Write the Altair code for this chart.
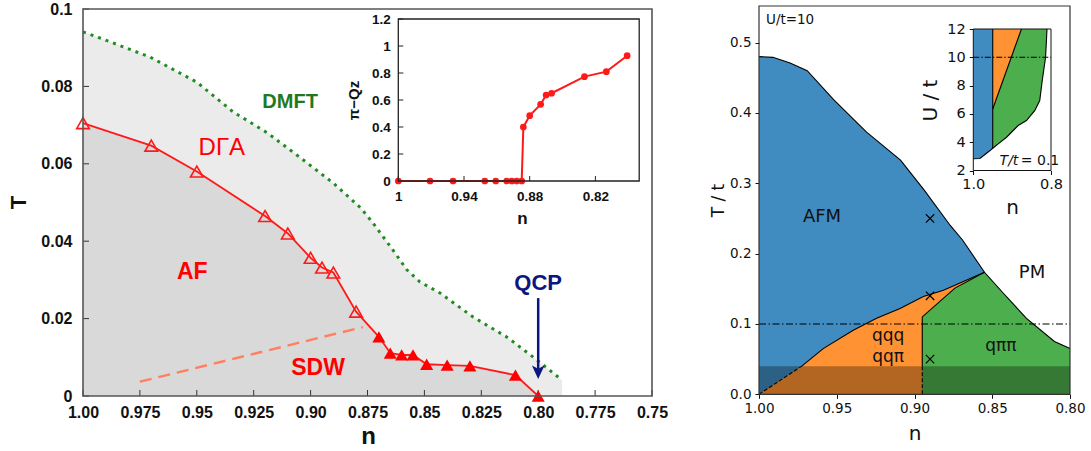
import altair as alt
import pandas as pd

W, H = 1091, 451

# ===================== LEFT PANEL: DGA / DMFT phase diagram =====================
L_N_DOMAIN = [1.0, 0.75]
L_T_DOMAIN = [0.0, 0.1]
L_XTICKS = [1.0, 0.975, 0.95, 0.925, 0.9, 0.875, 0.85, 0.825, 0.8, 0.775, 0.75]
L_XLABELS = ["1.00", "0.975", "0.95", "0.925", "0.90", "0.875", "0.85", "0.825", "0.80", "0.775", "0.75"]
L_YTICKS = [0.0, 0.02, 0.04, 0.06, 0.08, 0.1]
L_YLABELS = ["0", "0.02", "0.04", "0.06", "0.08", "0.1"]

DMFT_N = [1.000, 0.9925, 0.9706, 0.950, 0.934, 0.919, 0.905, 0.890, 0.878, 0.8726,
          0.8638, 0.8577, 0.852, 0.8431, 0.8286, 0.8137, 0.8023, 0.7895]
DMFT_T = [0.0941, 0.0925, 0.0876, 0.0811, 0.0734, 0.0680, 0.0618, 0.0550, 0.0486, 0.0447,
          0.0377, 0.0326, 0.0295, 0.0266, 0.0204, 0.0152, 0.0101, 0.0041]

DGA_N = [1.000, 0.970, 0.950, 0.920, 0.910, 0.900, 0.895, 0.890, 0.880,
         0.870, 0.865, 0.860, 0.855, 0.849, 0.840, 0.830, 0.810, 0.800]
DGA_T = [0.0705, 0.0647, 0.0580, 0.0465, 0.0420, 0.0357, 0.0332, 0.0319, 0.0218,
         0.0153, 0.0111, 0.0106, 0.0106, 0.0082, 0.0080, 0.0078, 0.0054, 0.0000]
DGA_FILLED = [False] * 9 + [True] * 9

SDW_N = [0.975, 0.877]
SDW_T = [0.0037, 0.0178]

QCP_N = [0.80]
QCP_SHAFT_T = [0.0253, 0.0070]
QCP_HEAD_T = [0.0067]

L_TEXT = ["DMFT", "DΓA", "AF", "SDW", "QCP"]
L_TEXT_N = [0.909, 0.939, 0.952, 0.8967, 0.800]
L_TEXT_T = [0.0760, 0.0641, 0.0320, 0.0072, 0.0292]

# ---- left inset ----
LI_N_DOMAIN = [1.0, 0.78]
LI_Q_DOMAIN = [0.0, 1.2]
LI_XTICKS = [1.0, 0.94, 0.88, 0.82]
LI_XLABELS = ["1", "0.94", "0.88", "0.82"]
LI_YTICKS = [0.0, 0.2, 0.4, 0.6, 0.8, 1.0, 1.2]
LI_YLABELS = ["0", "0.2", "0.4", "0.6", "0.8", "1", "1.2"]
LI_N = [1.000, 0.971, 0.950, 0.921, 0.911, 0.901, 0.8964, 0.8919, 0.8873,
        0.8858, 0.880, 0.870, 0.865, 0.860, 0.830, 0.810, 0.791]
LI_Q = [0, 0, 0, 0, 0, 0, 0, 0, 0,
        0.40, 0.484, 0.568, 0.637, 0.650, 0.773, 0.810, 0.928]

# ===================== RIGHT PANEL: U/t = 10 phase diagram =====================
R_N_DOMAIN = [1.0, 0.8]
R_T_DOMAIN = [0.0, 0.552]
R_XTICKS = [1.0, 0.95, 0.9, 0.85, 0.8]
R_YTICKS = [0.0, 0.1, 0.2, 0.3, 0.4, 0.5]

AFM_N = [1.000, 0.991, 0.980, 0.969, 0.952, 0.931, 0.909, 0.894, 0.877, 0.869,
         0.855, 0.843, 0.828, 0.810, 0.800]
AFM_T = [0.480, 0.479, 0.471, 0.460, 0.419, 0.373, 0.333, 0.291, 0.240, 0.219,
         0.1735, 0.144, 0.108, 0.075, 0.065]

LOW_N = [1.000, 0.9725, 0.9587, 0.9394, 0.9244, 0.9093, 0.8943, 0.8814, 0.855]
LOW_T = [0.000, 0.040, 0.065, 0.091, 0.108, 0.122, 0.139, 0.148, 0.1735]

GRN_N = [0.895, 0.895, 0.874, 0.855]
GRN_T = [0.000, 0.110, 0.151, 0.1735]

PM_N = [0.843, 0.828, 0.810, 0.800]
PM_T = [0.144, 0.108, 0.075, 0.065]

BAND_T = [0.0, 0.04]
CUT_T = [0.1]
CROSS_N = [0.89, 0.89, 0.89]
CROSS_T = [0.25, 0.14, 0.05]

R_TEXT = ["AFM", "PM", "qqq", "qqπ", "qππ"]
R_TEXT_N = [0.9595, 0.8244, 0.917, 0.917, 0.8444]
R_TEXT_T = [0.252, 0.1724, 0.083, 0.053, 0.0685]
R_TAG = "U/t=10"
R_TAG_N = 0.9955
R_TAG_T = 0.532

# ---- right inset ----
RI_N_DOMAIN = [1.0, 0.8]
RI_U_DOMAIN = [2.0, 12.0]
RI_XTICKS = [1.0, 0.8]
RI_YTICKS = [2, 4, 6, 8, 10, 12]
RI_BLUE_N = [1.000, 0.983, 0.970, 0.957, 0.950]
RI_BLUE_U = [2.83, 2.85, 3.13, 3.41, 3.57]
RI_GREEN_N = [0.950, 0.936, 0.9145, 0.8846, 0.8632, 0.842, 0.829, 0.8226, 0.814, 0.8103]
RI_GREEN_U = [3.57, 3.88, 4.35, 5.18, 5.53, 6.23, 6.94, 8.35, 10.0, 12.0]
RI_ORANGE_N = [0.950, 0.876]
RI_ORANGE_U = [6.35, 12.0]
RI_CUT_U = [10.0]
RI_TAG_N = [0.884, 0.8777]
RI_TAG_U = [2.65, 2.65]

BLUE, ORANGE, GREEN = "#408bbf", "#ff9232", "#4cae4c"
LFONT, RFONT = "Liberation Sans", "DejaVu Sans"


# ===================== helpers =====================
def label_expr(values, labels):
    vals = ",".join(repr(float(v)) for v in values)
    labs = ",".join("'" + s + "'" for s in labels)
    return f"[{labs}][indexof([{vals}], datum.value)]"


def make_enc(xdom, xrng, ydom, yrng, xaxis, yaxis):
    sx = alt.Scale(domain=xdom, range=xrng, nice=False, zero=False)
    sy = alt.Scale(domain=ydom, range=yrng, nice=False, zero=False)

    def X(f="x"):
        return alt.X(f, type="quantitative", scale=sx, axis=xaxis)

    def Y(f="y"):
        return alt.Y(f, type="quantitative", scale=sy, axis=yaxis)

    return X, Y


def df_line(xs, ys):
    return pd.DataFrame({"x": list(xs), "y": list(ys), "i": list(range(len(xs)))})


def df_area(xs, ys, base):
    return pd.DataFrame({"x": list(xs), "y": list(ys), "y2": list(base)})


def frame(X, Y, xdom, ydom, color, width):
    d = pd.DataFrame({"x": [xdom[0]], "x2": [xdom[1]], "y": [ydom[0]], "y2": [ydom[1]]})
    return alt.Chart(d).mark_rect(fillOpacity=0, stroke=color, strokeWidth=width).encode(
        x=X(), x2="x2", y=Y(), y2="y2")


def inward_ticks(X, Y, xticks, yticks, xdom, ydom, length, color):
    dx = pd.DataFrame({"x": xticks, "y": [ydom[0]] * len(xticks)})
    dx["y2"] = dx["y"]
    rx = alt.Chart(dx).mark_rule(color=color, strokeWidth=1, y2Offset=-length).encode(
        x=X(), y=Y(), y2="y2")
    dy = pd.DataFrame({"y": yticks, "x": [xdom[0]] * len(yticks)})
    dy["x2"] = dy["x"]
    ry = alt.Chart(dy).mark_rule(color=color, strokeWidth=1, x2Offset=length).encode(
        x=X(), x2="x2", y=Y())
    return [rx, ry]


def text(X, Y, x, y, s, **style):
    d = pd.DataFrame({"x": [x], "y": [y], "t": [s]})
    return alt.Chart(d).mark_text(**style).encode(x=X(), y=Y(), text="t:N")


# ===================== left main panel =====================
L_XAXIS = alt.Axis(orient="bottom", offset=-(H - 396), values=L_XTICKS,
                   labelExpr=label_expr(L_XTICKS, L_XLABELS), ticks=False, domain=False, grid=False,
                   labelFont=LFONT, labelFontSize=16, labelFontWeight="bold", labelColor="#111",
                   labelPadding=8, labelFlush=False, labelOverlap=False,
                   title="n", titleFont=LFONT, titleFontSize=24, titleFontWeight="bold",
                   titleColor="#111", titleX=368, titleY=47, titleAlign="center",
                   titleBaseline="alphabetic")
L_YAXIS = alt.Axis(orient="left", offset=-83, values=L_YTICKS,
                   labelExpr=label_expr(L_YTICKS, L_YLABELS), ticks=False, domain=False, grid=False,
                   labelFont=LFONT, labelFontSize=16, labelFontWeight="bold", labelColor="#111",
                   labelPadding=11, labelFlush=False, labelOverlap=False,
                   title="T", titleFont=LFONT, titleFontSize=22, titleFontWeight="bold",
                   titleColor="#111", titleAngle=270, titleX=-58, titleY=202, titleAlign="center",
                   titleBaseline="alphabetic")
LX, LY = make_enc(L_N_DOMAIN, [83, 652], L_T_DOMAIN, [396, 9], L_XAXIS, L_YAXIS)

zeros = lambda k: [L_T_DOMAIN[0]] * k
dga = pd.DataFrame({"x": DGA_N, "y": DGA_T, "filled": DGA_FILLED})

left_layers = [
    alt.Chart(df_area(DMFT_N, DMFT_T, zeros(len(DMFT_N)))).mark_area(color="#ebebeb").encode(
        x=LX(), y=LY(), y2="y2"),
    alt.Chart(df_area(DGA_N, DGA_T, zeros(len(DGA_N)))).mark_area(color="#d9d9d9").encode(
        x=LX(), y=LY(), y2="y2"),
    *inward_ticks(LX, LY, L_XTICKS, L_YTICKS, L_N_DOMAIN, L_T_DOMAIN, 6, "#333"),
    alt.Chart(df_line(SDW_N, SDW_T)).mark_line(color="#ff7f5f", strokeWidth=2.4,
                                               strokeDash=[12, 7]).encode(x=LX(), y=LY()),
    alt.Chart(df_line(DMFT_N, DMFT_T)).mark_line(color="#238a23", strokeWidth=3,
                                                 strokeDash=[3, 5]).encode(x=LX(), y=LY()),
    alt.Chart(dga).mark_line(color="#ff1a1a", strokeWidth=1.8).encode(x=LX(), y=LY()),
    alt.Chart(dga[~dga["filled"]]).mark_point(shape="triangle-up", filled=False, color="#ff1a1a",
                                              strokeWidth=1.6, size=160, opacity=1).encode(
        x=LX(), y=LY()),
    alt.Chart(dga[dga["filled"]]).mark_point(shape="triangle-up", filled=True, color="#ff0000",
                                             size=170, opacity=1).encode(x=LX(), y=LY()),
    alt.Chart(pd.DataFrame({"x": QCP_N, "y": [QCP_SHAFT_T[0]], "y2": [QCP_SHAFT_T[1]]})).mark_rule(
        color="#0c1580", strokeWidth=2.5).encode(x=LX(), y=LY(), y2="y2"),
    alt.Chart(pd.DataFrame({"x": QCP_N, "y": QCP_HEAD_T})).mark_point(
        shape="M0,1L-0.7,-0.5L0,-0.15L0.7,-0.5Z", filled=True, color="#0c1580", size=324,
        opacity=1).encode(x=LX(), y=LY()),
    text(LX, LY, L_TEXT_N[0], L_TEXT_T[0], L_TEXT[0], font=LFONT, fontSize=20, fontWeight="bold",
         color="#1f7a1f", baseline="middle"),
    text(LX, LY, L_TEXT_N[1], L_TEXT_T[1], L_TEXT[1], font=LFONT, fontSize=24, color="#ff0000",
         baseline="middle"),
    text(LX, LY, L_TEXT_N[2], L_TEXT_T[2], L_TEXT[2], font=LFONT, fontSize=23, fontWeight="bold",
         color="#ff0000", baseline="middle"),
    text(LX, LY, L_TEXT_N[3], L_TEXT_T[3], L_TEXT[3], font=LFONT, fontSize=23, fontWeight="bold",
         color="#ff0000", baseline="middle"),
    text(LX, LY, L_TEXT_N[4], L_TEXT_T[4], L_TEXT[4], font=LFONT, fontSize=22, fontWeight="bold",
         color="#0c1580", baseline="middle"),
    frame(LX, LY, L_N_DOMAIN, L_T_DOMAIN, "#555", 1.6),
]
left_panel = alt.layer(*left_layers)

# ===================== left inset =====================
LI_XAXIS = alt.Axis(orient="bottom", offset=-(H - 181), values=LI_XTICKS,
                    labelExpr=label_expr(LI_XTICKS, LI_XLABELS), ticks=False, domain=False, grid=False,
                    labelFont=LFONT, labelFontSize=13.5, labelFontWeight="bold", labelColor="#111",
                    labelPadding=8, labelFlush=False, labelOverlap=False,
                    title="n", titleFont=LFONT, titleFontSize=17, titleFontWeight="bold",
                    titleColor="#111", titleX=522, titleY=42, titleAlign="center",
                    titleBaseline="alphabetic", zindex=1)
LI_YAXIS = alt.Axis(orient="left", offset=-398.3, values=LI_YTICKS,
                    labelExpr=label_expr(LI_YTICKS, LI_YLABELS), ticks=False, domain=False, grid=False,
                    labelFont=LFONT, labelFontSize=13.5, labelFontWeight="bold", labelColor="#111",
                    labelPadding=8, labelFlush=False, labelOverlap=False,
                    title="π−Qz", titleFont=LFONT, titleFontSize=15, titleFontWeight="bold",
                    titleColor="#111", titleAngle=270, titleX=-40, titleY=100, titleAlign="center",
                    titleBaseline="alphabetic", zindex=1)
IX, IY = make_enc(LI_N_DOMAIN, [398.3, 639.2], LI_Q_DOMAIN, [181, 19], LI_XAXIS, LI_YAXIS)

ins = df_line(LI_N, LI_Q)
left_inset = alt.layer(
    *inward_ticks(IX, IY, LI_XTICKS, LI_YTICKS, LI_N_DOMAIN, LI_Q_DOMAIN, 5, "#222"),
    alt.Chart(ins).mark_line(color="#ff1a1a", strokeWidth=2).encode(x=IX(), y=IY(), order="i:Q"),
    alt.Chart(ins).mark_point(shape="circle", filled=True, color="#ff1a1a", size=45,
                              opacity=1).encode(x=IX(), y=IY()),
    frame(IX, IY, LI_N_DOMAIN, LI_Q_DOMAIN, "#222", 1.3),
)

# ===================== right main panel =====================
R_XAXIS = alt.Axis(orient="bottom", offset=-(H - 394.3), values=R_XTICKS, format=".2f",
                   ticks=True, tickSize=4, tickColor="#111", tickWidth=1, domain=False, grid=False,
                   labelFont=RFONT, labelFontSize=13.5, labelColor="#111", labelPadding=3,
                   labelFlush=False, labelOverlap=False,
                   title="n", titleFont=RFONT, titleFontSize=20, titleFontWeight="normal",
                   titleColor="#111", titleX=914.5, titleY=45.5, titleAlign="center",
                   titleBaseline="alphabetic")
R_YAXIS = alt.Axis(orient="left", offset=-759, values=R_YTICKS, format=".1f",
                   ticks=True, tickSize=4, tickColor="#111", tickWidth=1, domain=False, grid=False,
                   labelFont=RFONT, labelFontSize=13.5, labelColor="#111", labelPadding=4,
                   labelFlush=False, labelOverlap=False,
                   title="T / t", titleFont=RFONT, titleFontSize=17, titleFontWeight="normal",
                   titleColor="#111", titleAngle=270, titleX=-36, titleY=200, titleAlign="center",
                   titleBaseline="alphabetic")
RX, RY = make_enc(R_N_DOMAIN, [759, 1070], R_T_DOMAIN, [394.3, 6], R_XAXIS, R_YAXIS)

r0 = R_T_DOMAIN[0]
green_n = GRN_N[1:] + PM_N
green_t = GRN_T[1:] + PM_T
band = pd.DataFrame({"x": [R_N_DOMAIN[0]], "x2": [R_N_DOMAIN[1]], "y": [BAND_T[0]], "y2": [BAND_T[1]]})
cut = pd.DataFrame({"x": [R_N_DOMAIN[0]], "x2": [R_N_DOMAIN[1]], "y": CUT_T})

right_layers = [
    alt.Chart(df_area(AFM_N, AFM_T, [r0] * len(AFM_N))).mark_area(color=BLUE, opacity=1).encode(
        x=RX(), y=RY(), y2="y2"),
    alt.Chart(df_area(LOW_N, LOW_T, [r0] * len(LOW_N))).mark_area(color=ORANGE, opacity=1).encode(
        x=RX(), y=RY(), y2="y2"),
    alt.Chart(df_area(green_n, green_t, [r0] * len(green_n))).mark_area(color=GREEN, opacity=1).encode(
        x=RX(), y=RY(), y2="y2"),
    alt.Chart(band).mark_rect(color="black", opacity=0.3).encode(x=RX(), x2="x2", y=RY(), y2="y2"),
    alt.Chart(df_line(AFM_N, AFM_T)).mark_line(color="black", strokeWidth=1.1).encode(
        x=RX(), y=RY(), order="i:Q"),
    alt.Chart(df_line(LOW_N[1:], LOW_T[1:])).mark_line(color="black", strokeWidth=1.1).encode(
        x=RX(), y=RY(), order="i:Q"),
    alt.Chart(df_line(LOW_N[:2], LOW_T[:2])).mark_line(color="black", strokeWidth=1.1,
                                                       strokeDash=[4, 2]).encode(
        x=RX(), y=RY(), order="i:Q"),
    alt.Chart(df_line([GRN_N[0]] + GRN_N[1:], [BAND_T[1]] + GRN_T[1:])).mark_line(
        color="black", strokeWidth=1.1).encode(x=RX(), y=RY(), order="i:Q"),
    alt.Chart(df_line(GRN_N[:1] * 2, [GRN_T[0], BAND_T[1]])).mark_line(
        color="black", strokeWidth=1.1, strokeDash=[4, 2]).encode(x=RX(), y=RY(), order="i:Q"),
    alt.Chart(cut).mark_rule(color="black", strokeWidth=1.1, strokeDash=[7, 2.5, 1.5, 2.5]).encode(
        x=RX(), x2="x2", y=RY()),
    alt.Chart(pd.DataFrame({"x": CROSS_N, "y": CROSS_T})).mark_point(
        shape="M-1,-1L1,1M-1,1L1,-1", filled=False, color="black", strokeWidth=1.2, size=70,
        opacity=1).encode(x=RX(), y=RY()),
    text(RX, RY, R_TEXT_N[0], R_TEXT_T[0], R_TEXT[0], font=RFONT, fontSize=18, color="#111",
         baseline="middle"),
    text(RX, RY, R_TEXT_N[1], R_TEXT_T[1], R_TEXT[1], font=RFONT, fontSize=18, color="#111",
         baseline="middle"),
    text(RX, RY, R_TEXT_N[2], R_TEXT_T[2], R_TEXT[2], font=RFONT, fontSize=17, color="#111",
         baseline="middle"),
    text(RX, RY, R_TEXT_N[3], R_TEXT_T[3], R_TEXT[3], font=RFONT, fontSize=17, color="#111",
         baseline="middle"),
    text(RX, RY, R_TEXT_N[4], R_TEXT_T[4], R_TEXT[4], font=RFONT, fontSize=17, color="#111",
         baseline="middle"),
    text(RX, RY, R_TAG_N, R_TAG_T, R_TAG, font=RFONT, fontSize=13.5, color="#111",
         align="left", baseline="middle"),
    frame(RX, RY, R_N_DOMAIN, R_T_DOMAIN, "#333", 1.2),
]
right_panel = alt.layer(*right_layers)

# ===================== right inset =====================
RI_XAXIS = alt.Axis(orient="bottom", offset=-(H - 170.5), values=RI_XTICKS, format=".1f",
                    ticks=True, tickSize=4, tickColor="#111", tickWidth=1, domain=False, grid=False,
                    labelFont=RFONT, labelFontSize=14.5, labelColor="#111", labelPadding=3,
                    labelFlush=False, labelOverlap=False,
                    title="n", titleFont=RFONT, titleFontSize=20, titleFontWeight="normal",
                    titleColor="#111", titleX=1012, titleY=42.5, titleAlign="center",
                    titleBaseline="alphabetic")
RI_YAXIS = alt.Axis(orient="left", offset=-973.3, values=RI_YTICKS, format="d",
                    ticks=True, tickSize=4, tickColor="#111", tickWidth=1, domain=False, grid=False,
                    labelFont=RFONT, labelFontSize=14.5, labelColor="#111", labelPadding=4,
                    labelFlush=False, labelOverlap=False,
                    title="U / t", titleFont=RFONT, titleFontSize=20, titleFontWeight="normal",
                    titleColor="#111", titleAngle=270, titleX=-37, titleY=100, titleAlign="center",
                    titleBaseline="alphabetic")
QX, QY = make_enc(RI_N_DOMAIN, [973.3, 1051], RI_U_DOMAIN, [170.5, 29], RI_XAXIS, RI_YAXIS)

utop = RI_U_DOMAIN[1]
outline_n = RI_BLUE_N + RI_GREEN_N[1:]
outline_u = RI_BLUE_U + RI_GREEN_U[1:]
ri_cut = pd.DataFrame({"x": [RI_N_DOMAIN[0]], "x2": [RI_N_DOMAIN[1]], "y": RI_CUT_U})

right_inset = alt.layer(
    alt.Chart(df_area(RI_GREEN_N, [utop] * len(RI_GREEN_N), RI_GREEN_U)).mark_area(
        color=GREEN, opacity=1).encode(x=QX(), y=QY(), y2="y2"),
    alt.Chart(df_area(RI_ORANGE_N, [utop] * len(RI_ORANGE_N), RI_ORANGE_U)).mark_area(
        color=ORANGE, opacity=1).encode(x=QX(), y=QY(), y2="y2"),
    alt.Chart(df_area(RI_BLUE_N, [utop] * len(RI_BLUE_N), RI_BLUE_U)).mark_area(
        color=BLUE, opacity=1).encode(x=QX(), y=QY(), y2="y2"),
    alt.Chart(df_line(outline_n, outline_u)).mark_line(color="black", strokeWidth=1.1).encode(
        x=QX(), y=QY(), order="i:Q"),
    alt.Chart(df_line([RI_BLUE_N[-1]] * 2, [RI_BLUE_U[-1], utop])).mark_line(
        color="black", strokeWidth=1.1).encode(x=QX(), y=QY(), order="i:Q"),
    alt.Chart(df_line(RI_ORANGE_N, RI_ORANGE_U)).mark_line(color="black", strokeWidth=1.1).encode(
        x=QX(), y=QY(), order="i:Q"),
    alt.Chart(ri_cut).mark_rule(color="black", strokeWidth=1.1, strokeDash=[6, 2, 1.5, 2]).encode(
        x=QX(), x2="x2", y=QY()),
    text(QX, QY, RI_TAG_N[0], RI_TAG_U[0], "T/t", font=RFONT, fontSize=14, fontStyle="italic",
         color="#111", align="right", baseline="middle"),
    text(QX, QY, RI_TAG_N[1], RI_TAG_U[1], "= 0.1", font=RFONT, fontSize=14, color="#111",
         align="left", baseline="middle"),
    frame(QX, QY, RI_N_DOMAIN, RI_U_DOMAIN, "#111", 1.0),
)

chart = (
    alt.layer(left_panel, left_inset, right_panel, right_inset)
    .resolve_scale(x="independent", y="independent")
    .properties(width=W, height=H, autosize=alt.AutoSizeParams(type="none"), padding=0,
                background="white")
    .configure_view(stroke=None)
)

chart.save("out.html", embed_options={"renderer": "svg", "actions": False})
